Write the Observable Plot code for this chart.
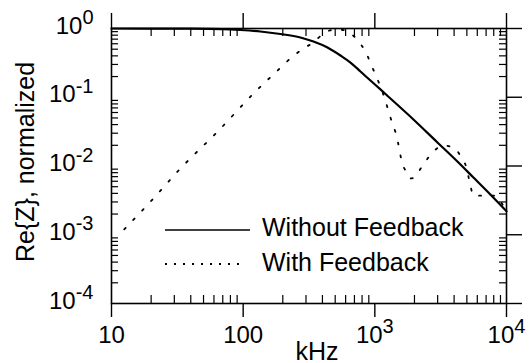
<!DOCTYPE html>
<html>
<head>
<meta charset="utf-8">
<script src="https://cdn.jsdelivr.net/npm/d3@7"></script>
<script src="https://cdn.jsdelivr.net/npm/@observablehq/plot@0.6"></script>
<style>
  body { margin: 0; background: #fff; }
  svg { font-family: "Liberation Sans", Arial, Helvetica, sans-serif; }
</style>
</head>
<body>
<div id="chart"></div>
<script>
// ---- data ----
const freqSolid = [10, 40, 70, 95.4, 135, 192, 272, 342, 437, 548, 653, 778, 926, 1103, 1314, 1964, 2988, 4239, 5607, 7161, 10000];
const reSolid   = [1.0, 0.995, 0.98, 0.951, 0.905, 0.832, 0.740, 0.647, 0.529, 0.405, 0.320, 0.237, 0.175, 0.130, 0.0959, 0.0475, 0.0220, 0.0116, 0.0068, 0.00426, 0.0022];

const freqFeedback = [12.5, 20, 33.4, 65, 124, 176, 241, 287, 342, 400, 450, 511, 580, 650, 720, 778, 863, 926, 994, 1065, 1202, 1267, 1336, 1459, 1538, 1593, 1707, 1862, 2000, 2180, 2420, 2785, 3318, 3953, 4545, 4960, 5320, 5610, 8090, 10000];
const reFeedback   = [0.0012, 0.0031, 0.0092, 0.0327, 0.121, 0.229, 0.40, 0.51, 0.63, 0.82, 0.93, 0.97, 0.95, 0.85, 0.72, 0.60, 0.43, 0.32, 0.229, 0.169, 0.0895, 0.064, 0.0458, 0.0277, 0.0173, 0.012, 0.0086, 0.0066, 0.0068, 0.0086, 0.0116, 0.0162, 0.0198, 0.0185, 0.0133, 0.0095, 0.0052, 0.0037, 0.0037, 0.0021];

const seriesNames = ["Without Feedback", "With Feedback"];

const xMajorTicks = [10, 100, 1000, 10000];
const xTickLabels = ["10", "100", "10^3", "10^4"];
const yMajorTicks = [1, 0.1, 0.01, 0.001, 0.0001];
const yTickLabels = ["10^0", "10^-1", "10^-2", "10^-3", "10^-4"];
const minorMultipliers = [2, 3, 4, 5, 6, 7, 8, 9];
const xDecades = [10, 100, 1000];
const yDecades = [0.0001, 0.001, 0.01, 0.1];

const xLabel = "kHz";
const yLabel = "Re{Z}, normalized";

// ---- layout ----
const W = 529, H = 363;
const mL = 111, mR = 23, mT = 28, mB = 60;
const fw = W - mL - mR, fh = H - mT - mB;

const xMinor = xDecades.flatMap(d => minorMultipliers.map(k => k * d));
const yMinor = yDecades.flatMap(d => minorMultipliers.map(k => k * d));

const solidData = freqSolid.map((f, i) => ({f, v: reSolid[i]}));
const fbData = freqFeedback.map((f, i) => ({f, v: reFeedback[i]}));

const legendMark = (index, scales, values, dims) => {
  const g = d3.create("svg:g");
  const x0 = dims.marginLeft + 54, x1 = dims.marginLeft + 139;
  const rows = [
    {y: 230, ty: 236, dash: null},
    {y: 264, ty: 271, dash: "2,7"}
  ];
  rows.forEach((r, i) => {
    g.append("line")
      .attr("x1", x0).attr("x2", x1 - (r.dash ? 4 : 0))
      .attr("y1", r.y).attr("y2", r.y)
      .attr("stroke", "black")
      .attr("stroke-width", r.dash ? 1.8 : 1.6)
      .attr("stroke-dasharray", r.dash);
    g.append("text")
      .attr("x", dims.marginLeft + 151).attr("y", r.ty)
      .attr("text-anchor", "start")
      .attr("font-size", 25)
      .attr("fill", "black")
      .text(seriesNames[i]);
  });
  return g.node();
};

const chart = Plot.plot({
  width: W,
  height: H,
  marginLeft: mL, marginRight: mR, marginTop: mT, marginBottom: mB,
  style: {background: "white", fontFamily: '"Liberation Sans", Arial, Helvetica, sans-serif', overflow: "visible"},
  x: {type: "log", domain: [10, 10000], axis: null},
  y: {type: "log", domain: [0.0001, 1], axis: null},
  marks: [
    // minor ticks, pointing inward
    Plot.ruleX(xMinor, {x: d => d, insetTop: fh - 8, strokeWidth: 1.2}),
    Plot.ruleX(xMinor, {x: d => d, insetBottom: fh - 8, strokeWidth: 1.2}),
    Plot.ruleY(yMinor, {y: d => d, insetRight: fw - 7, strokeWidth: 1.2}),
    Plot.ruleY(yMinor, {y: d => d, insetLeft: fw - 7, strokeWidth: 1.2}),
    // major ticks, pointing outward
    Plot.ruleX(xMajorTicks, {x: d => d, insetTop: fh, insetBottom: -14, strokeWidth: 1.4}),
    Plot.ruleX(xMajorTicks, {x: d => d, insetBottom: fh, insetTop: -15, strokeWidth: 1.4}),
    Plot.ruleY(yMajorTicks, {y: d => d, insetLeft: fw, insetRight: -16, strokeWidth: 1.4}),
    Plot.frame({stroke: "black", strokeWidth: 1.6}),
    // curves
    Plot.line(fbData, {x: "f", y: "v", stroke: "black", strokeWidth: 1.8, strokeDasharray: "2,11", curve: "monotone-x"}),
    Plot.line(solidData, {x: "f", y: "v", stroke: "black", strokeWidth: 2.2, curve: "monotone-x"}),
    // tick labels
    Plot.text(xMajorTicks, {x: d => d, text: (d, i) => xTickLabels[i], frameAnchor: "bottom", textAnchor: "middle", lineAnchor: "bottom", dy: 39, fontSize: 24, fill: "black"}),
    Plot.text(yMajorTicks, {y: d => d, text: (d, i) => yTickLabels[i], frameAnchor: "left", textAnchor: "end", lineAnchor: "bottom", dx: -18, dy: 5, fontSize: 24, fill: "black"}),
    // axis labels
    Plot.text([xLabel], {text: d => d, frameAnchor: "bottom", textAnchor: "middle", lineAnchor: "bottom", dx: 8, dy: 56, fontSize: 25, fill: "black"}),
    Plot.text([yLabel], {text: d => d, frameAnchor: "left", textAnchor: "middle", rotate: -90, lineAnchor: "bottom", dx: -78, dy: -4, fontSize: 25, fill: "black"}),
    legendMark
  ]
});

// turn "10^3" into a base + superscript
d3.select(chart).selectAll("text").each(function() {
  const t = this.textContent;
  const m = /^(.*)\^(.*)$/.exec(t);
  if (!m) return;
  const sel = d3.select(this);
  sel.text(null);
  sel.append("tspan").text(m[1]);
  sel.append("tspan").attr("dy", -9.5).attr("font-size", 20).text(m[2]);
});

document.getElementById("chart").appendChild(chart);
</script>
</body>
</html>
